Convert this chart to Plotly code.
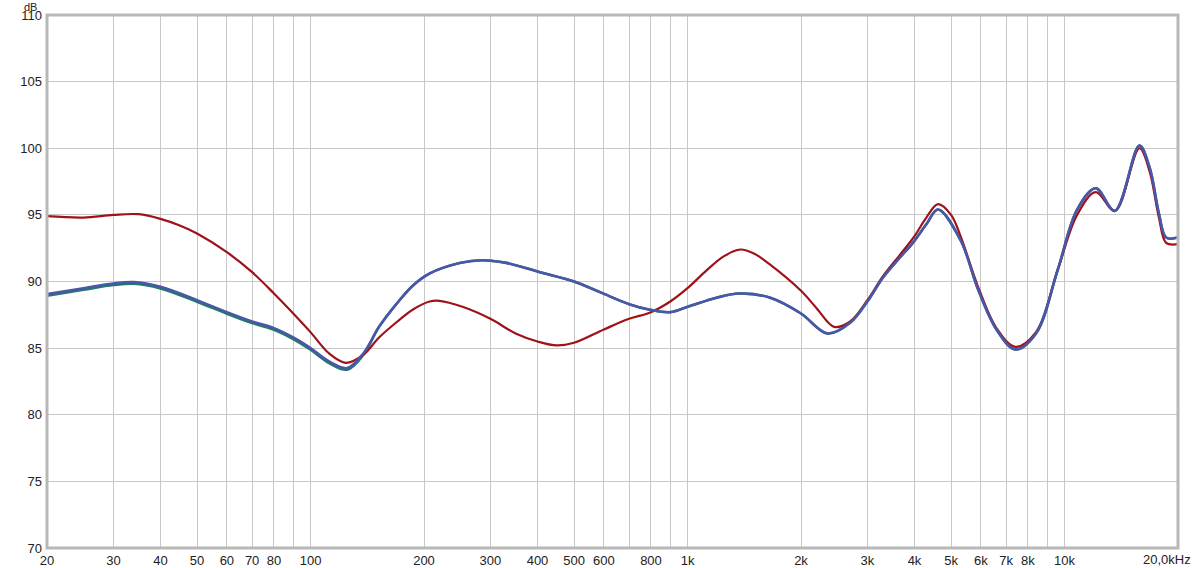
import plotly.graph_objects as go

# ---- data ----
red_freq = [20, 25, 30, 35, 40, 45, 50, 60, 70, 80, 90, 100, 112, 124, 138, 152, 170, 187, 207, 220,
            253, 300, 350, 400, 450, 500, 600, 700, 800, 900, 1000, 1120, 1250, 1380, 1500, 1650,
            2000, 2200, 2450, 2700, 3000, 3300, 3660, 4000, 4300, 4620, 5000, 5300, 5900, 6600,
            7400, 8400, 9600, 10800, 12100, 13600, 15800, 16800, 17800, 18600, 20000]
red_db = [94.9, 94.8, 95.0, 95.05, 94.7, 94.2, 93.6, 92.2, 90.7, 89.1, 87.6, 86.2, 84.6, 83.9, 84.5,
          85.8, 87.0, 87.9, 88.5, 88.55, 88.1, 87.2, 86.1, 85.5, 85.2, 85.4, 86.4, 87.2, 87.7, 88.5,
          89.5, 90.8, 91.9, 92.4, 92.1, 91.3, 89.3, 88.0, 86.6, 87.0, 88.6, 90.4, 92.0, 93.4, 94.8,
          95.8, 95.0, 93.4, 89.6, 86.5, 85.1, 86.2, 90.9, 95.0, 96.7, 95.3, 100.0, 98.3, 94.8,
          92.9, 92.8]

blue_freq = [20, 25, 30, 34, 40, 50, 60, 70, 80, 90, 100, 112, 125, 138, 152, 170, 187, 207, 250,
             285, 330, 406, 500, 586, 700, 789, 900, 1000, 1200, 1370, 1650, 2000, 2350, 2700, 3000,
             3300, 3660, 3960, 4300, 4620, 5300, 5900, 6600, 7400, 8400, 9600, 10800, 12100, 13600,
             15800, 16800, 17800, 18600, 20000]
blue_db = [89.05, 89.5, 89.85, 89.95, 89.6, 88.6, 87.7, 87.0, 86.5, 85.8, 85.0, 84.0, 83.5, 84.6,
           86.6, 88.4, 89.7, 90.6, 91.4, 91.6, 91.4, 90.7, 90.0, 89.2, 88.3, 87.9, 87.7, 88.1, 88.8,
           89.1, 88.8, 87.6, 86.1, 86.9, 88.5, 90.3, 91.8, 92.9, 94.3, 95.4, 93.1, 89.4, 86.4, 84.9,
           86.1, 90.9, 95.4, 97.0, 95.3, 100.2, 98.6, 95.1, 93.3, 93.3]

green_offset = [-0.12 if f < 150 else 0.0 for f in blue_freq]
green_db = [v + o for v, o in zip(blue_db, green_offset)]

grid_freqs = [20, 30, 40, 50, 60, 70, 80, 90, 100, 200, 300, 400, 500, 600, 700, 800, 900,
              1000, 2000, 3000, 4000, 5000, 6000, 7000, 8000, 9000, 10000, 20000]
grid_labels = ["20", "30", "40", "50", "60", "70", "80", "", "100", "200", "300", "400", "500",
               "600", "", "800", "", "1k", "2k", "3k", "4k", "5k", "6k", "7k", "8k", "", "10k", ""]
decades = [100, 1000, 10000]
y_ticks = [70, 75, 80, 85, 90, 95, 100, 105, 110]

RED = "#a0121a"
BLUE = "#4a56a8"
GREEN = "#1f7a66"

fig = go.Figure()
fig.add_trace(go.Scatter(x=blue_freq, y=green_db, mode="lines",
                         line=dict(color=GREEN, width=2.5, shape="spline", smoothing=1.0),
                         hoverinfo="skip", showlegend=False))
fig.add_trace(go.Scatter(x=red_freq, y=red_db, mode="lines",
                         line=dict(color=RED, width=2.2, shape="spline", smoothing=1.0),
                         showlegend=False))
fig.add_trace(go.Scatter(x=blue_freq, y=blue_db, mode="lines",
                         line=dict(color=BLUE, width=2.6, shape="spline", smoothing=1.0),
                         showlegend=False))

for d in decades:
    fig.add_shape(type="line", xref="x", yref="paper", x0=d, x1=d, y0=0, y1=1,
                  line=dict(color="#8a8a8a", width=1), layer="below")

# frame
fig.add_shape(type="rect", xref="paper", yref="paper", x0=0, x1=1, y0=0, y1=1,
              line=dict(color="#b8b8b8", width=3), layer="above")

fig.add_annotation(text="dB", xref="paper", yref="paper", x=0, y=1, xanchor="right", yanchor="top",
                   xshift=-9, yshift=15, showarrow=False, borderpad=0,
                   font=dict(size=11, color="#222"))
fig.add_annotation(text="20,0kHz", xref="x", yref="paper", x=4.30103, y=0, xanchor="right",
                   yanchor="top", xshift=15, yshift=-2, showarrow=False,
                   font=dict(size=13, color="#222"))

fig.update_layout(
    width=1200, height=568,
    margin=dict(l=47, r=22, t=15, b=20, autoexpand=False),
    paper_bgcolor="white", plot_bgcolor="white",
    font=dict(family="Liberation Sans, Arial, sans-serif", size=13, color="#222"),
    xaxis=dict(type="log", range=[1.30103, 4.30103], tickvals=grid_freqs, ticktext=grid_labels,
               showgrid=True, gridcolor="#c8c8c8", gridwidth=1, zeroline=False, ticks="",
               showline=False, tickfont=dict(size=13), automargin=False, ticklabelstandoff=3),
    yaxis=dict(range=[70, 110], tickvals=y_ticks, showgrid=True, gridcolor="#c8c8c8",
               gridwidth=1, zeroline=False, ticks="", showline=False, tickfont=dict(size=13),
               automargin=False, ticklabelstandoff=4),
)

fig.write_html("out.html", config={"displayModeBar": False},
               post_script="document.body.style.margin='0';")
